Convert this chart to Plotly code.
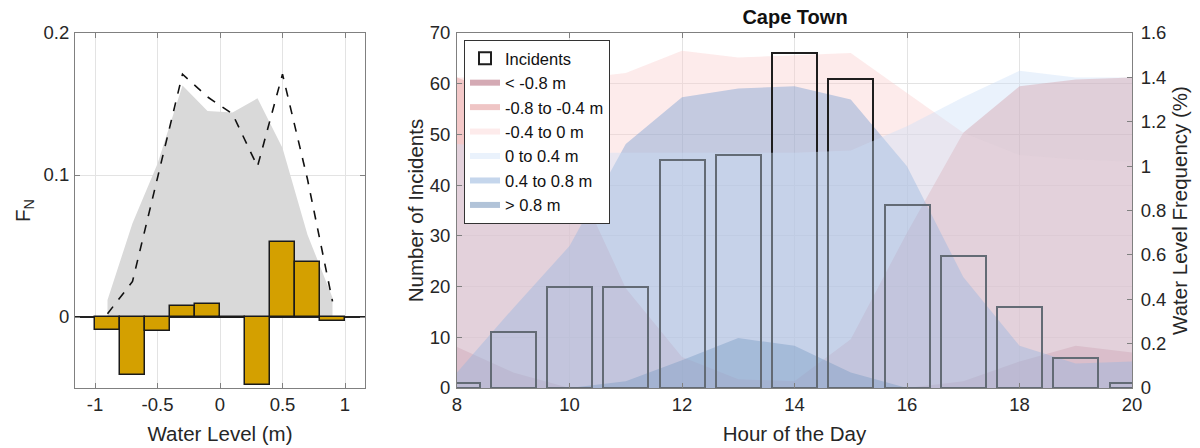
import plotly.graph_objects as go

# ---------------- Left panel data ----------------
wl_bin_centers = [-0.9, -0.7, -0.5, -0.3, -0.1, 0.1, 0.3, 0.5, 0.7, 0.9]
fn_water_level = [0.012, 0.066, 0.108, 0.163, 0.145, 0.144, 0.154, 0.119, 0.058, 0.0135]
fn_incidents = [0.0023, 0.025, 0.098, 0.171, 0.155, 0.143, 0.106, 0.171, 0.097, 0.011]
fn_difference = [-0.0094, -0.041, -0.010, 0.0075, 0.0094, -0.001, -0.048, 0.0525, 0.039, -0.0026]
left_xticks = [-1, -0.5, 0, 0.5, 1]
left_xticklabels = ["-1", "-0.5", "0", "0.5", "1"]
left_yticks = [0, 0.1, 0.2]
left_yticklabels = ["0", "0.1", "0.2"]

# ---------------- Right panel data ----------------
hours = [8, 9, 10, 11, 12, 13, 14, 15, 16, 17, 18, 19, 20]
incidents = [1, 11, 20, 20, 45, 46, 66, 61, 36, 26, 16, 6, 1]
level_names = ["< -0.8 m", "-0.8 to -0.4 m", "-0.4 to 0 m", "0 to 0.4 m", "0.4 to 0.8 m", "> 0.8 m"]
freq_below_m08 = [0.185, 0.07, 0.0, 0.0, 0.0, 0.0, 0.0, 0.0, 0.0, 0.03, 0.12, 0.19, 0.16]
freq_m08_m04 = [1.40, 1.30, 1.00, 0.45, 0.14, 0.04, 0.03, 0.22, 0.70, 1.15, 1.36, 1.39, 1.40]
freq_m04_0 = [1.40, 1.40, 1.39, 1.42, 1.52, 1.49, 1.50, 1.51, 1.33, 1.15, 1.05, 1.03, 1.02]
freq_0_04 = [1.10, 1.08, 1.06, 1.06, 1.06, 1.06, 1.06, 1.07, 1.18, 1.31, 1.43, 1.40, 1.40]
freq_04_08 = [0.07, 0.36, 0.64, 1.10, 1.31, 1.35, 1.36, 1.30, 1.00, 0.50, 0.19, 0.11, 0.12]
freq_above_08 = [0.0, 0.0, 0.0, 0.03, 0.125, 0.225, 0.19, 0.07, 0.0, 0.0, 0.0, 0.0, 0.0]
level_series = [freq_below_m08, freq_m08_m04, freq_m04_0, freq_0_04, freq_04_08, freq_above_08]
level_colors = [
    "rgba(147,42,67,0.4)",
    "rgba(215,110,110,0.4)",
    "rgba(250,205,205,0.4)",
    "rgba(202,222,247,0.4)",
    "rgba(110,152,207,0.4)",
    "rgba(60,105,157,0.4)",
]
# the pale "0 to 0.4 m" layer lies over the incident bars, the others beneath them
level_on_top = [False, False, False, True, False, False]

FONT = "Liberation Sans, Arial, sans-serif"
W, H = 1200, 448
TXT = "#262626"
AX = "#808080"
GRID = "#e3e3e3"


def px_x(p):
    return p / W


def px_y(p):
    return 1 - p / H


fig = go.Figure()

# ---------- Left panel ----------
fig.add_trace(go.Scatter(
    x=wl_bin_centers, y=fn_water_level, mode="none", fill="tozeroy",
    fillcolor="#d9d9d9", showlegend=False, xaxis="x", yaxis="y", hoverinfo="skip"))
fig.add_trace(go.Scatter(
    x=wl_bin_centers, y=fn_incidents, mode="lines",
    line=dict(color="#111111", width=1.6, dash="dash"),
    showlegend=False, xaxis="x", yaxis="y4"))
fig.add_trace(go.Bar(
    x=wl_bin_centers, y=fn_difference, width=0.2,
    marker=dict(color="#D4A000", line=dict(color="#1a1a1a", width=1.5)),
    showlegend=False, xaxis="x", yaxis="y4"))

# ---------- Right panel ----------
fig.add_trace(go.Bar(
    x=hours, y=incidents, width=0.8, name="Incidents", legendrank=1,
    marker=dict(color="rgba(0,0,0,0)", line=dict(color="#1e1e1e", width=2)),
    xaxis="x2", yaxis="y3"))
for i, (name, vals, col, top) in enumerate(zip(level_names, level_series, level_colors, level_on_top)):
    fig.add_trace(go.Scatter(
        x=hours, y=vals, mode="none", fill="tozeroy", fillcolor=col,
        name=name, legendrank=2 + i, xaxis="x2", yaxis="y5" if top else "y2"))

tickfont = dict(family=FONT, size=18.5, color=TXT)
titlefont = dict(family=FONT, size=20.5, color=TXT)
common = dict(showline=True, linecolor=AX, linewidth=1, ticks="inside", ticklen=5,
              tickcolor=AX, tickfont=tickfont, gridcolor=GRID, gridwidth=1,
              zeroline=False, automargin=False)
hidden = dict(showline=False, showgrid=False, zeroline=False, showticklabels=False,
              ticks="", automargin=False)
ydom = [px_y(388), px_y(33)]

fig.update_layout(
    width=W, height=H,
    margin=dict(l=0, r=0, t=0, b=0),
    paper_bgcolor="white", plot_bgcolor="white",
    font=dict(family=FONT, color=TXT),
    title=dict(text="<b>Cape Town</b>", x=px_x(795), xanchor="center",
               y=px_y(17), yanchor="middle", font=dict(family=FONT, size=20, color="#111")),
    # left panel axes
    xaxis=dict(domain=[px_x(75), px_x(365)], range=[-1.16, 1.16],
               tickvals=left_xticks, ticktext=left_xticklabels, mirror="ticks",
               anchor="y", ticklabelstandoff=0,
               title=dict(text="Water Level (m)", font=titlefont, standoff=12), **common),
    yaxis=dict(domain=ydom, range=[-0.05, 0.2],
               tickvals=left_yticks, ticktext=left_yticklabels, mirror="ticks",
               anchor="x", ticklabelstandoff=1,
               title=dict(text="F<sub>N</sub>", font=titlefont, standoff=7),
               **{k: v for k, v in common.items() if k != "zeroline"},
               zeroline=True, zerolinecolor="#222222", zerolinewidth=1.5),
    yaxis4=dict(range=[-0.05, 0.2], overlaying="y", anchor="x", **hidden),
    # right panel axes
    xaxis2=dict(domain=[px_x(457), px_x(1132)], range=[8, 20], dtick=2, tick0=8,
                mirror="ticks", anchor="y2", ticklabelstandoff=0,
                title=dict(text="Hour of the Day", font=titlefont, standoff=12), **common),
    yaxis2=dict(domain=ydom, range=[0, 1.6], dtick=0.2, anchor="x2", side="right",
                showgrid=False, ticklabelstandoff=4,
                title=dict(text="Water Level Frequency (%)", font=titlefont, standoff=7),
                **{k: v for k, v in common.items() if k not in ("gridcolor", "gridwidth")}),
    yaxis3=dict(range=[0, 70], dtick=10, overlaying="y2", anchor="x2", side="left",
                ticklabelstandoff=2,
                title=dict(text="Number of Incidents", font=titlefont, standoff=0), **common),
    yaxis5=dict(range=[0, 1.6], overlaying="y2", anchor="x2", **hidden),
    legend=dict(x=px_x(464), y=px_y(40), xanchor="left", yanchor="top",
                bgcolor="white", bordercolor="#333333", borderwidth=1,
                font=dict(family=FONT, size=16.5, color="#111"), tracegroupgap=0,
                traceorder="normal"),
    bargap=0,
)

fig.write_html("out.html")
